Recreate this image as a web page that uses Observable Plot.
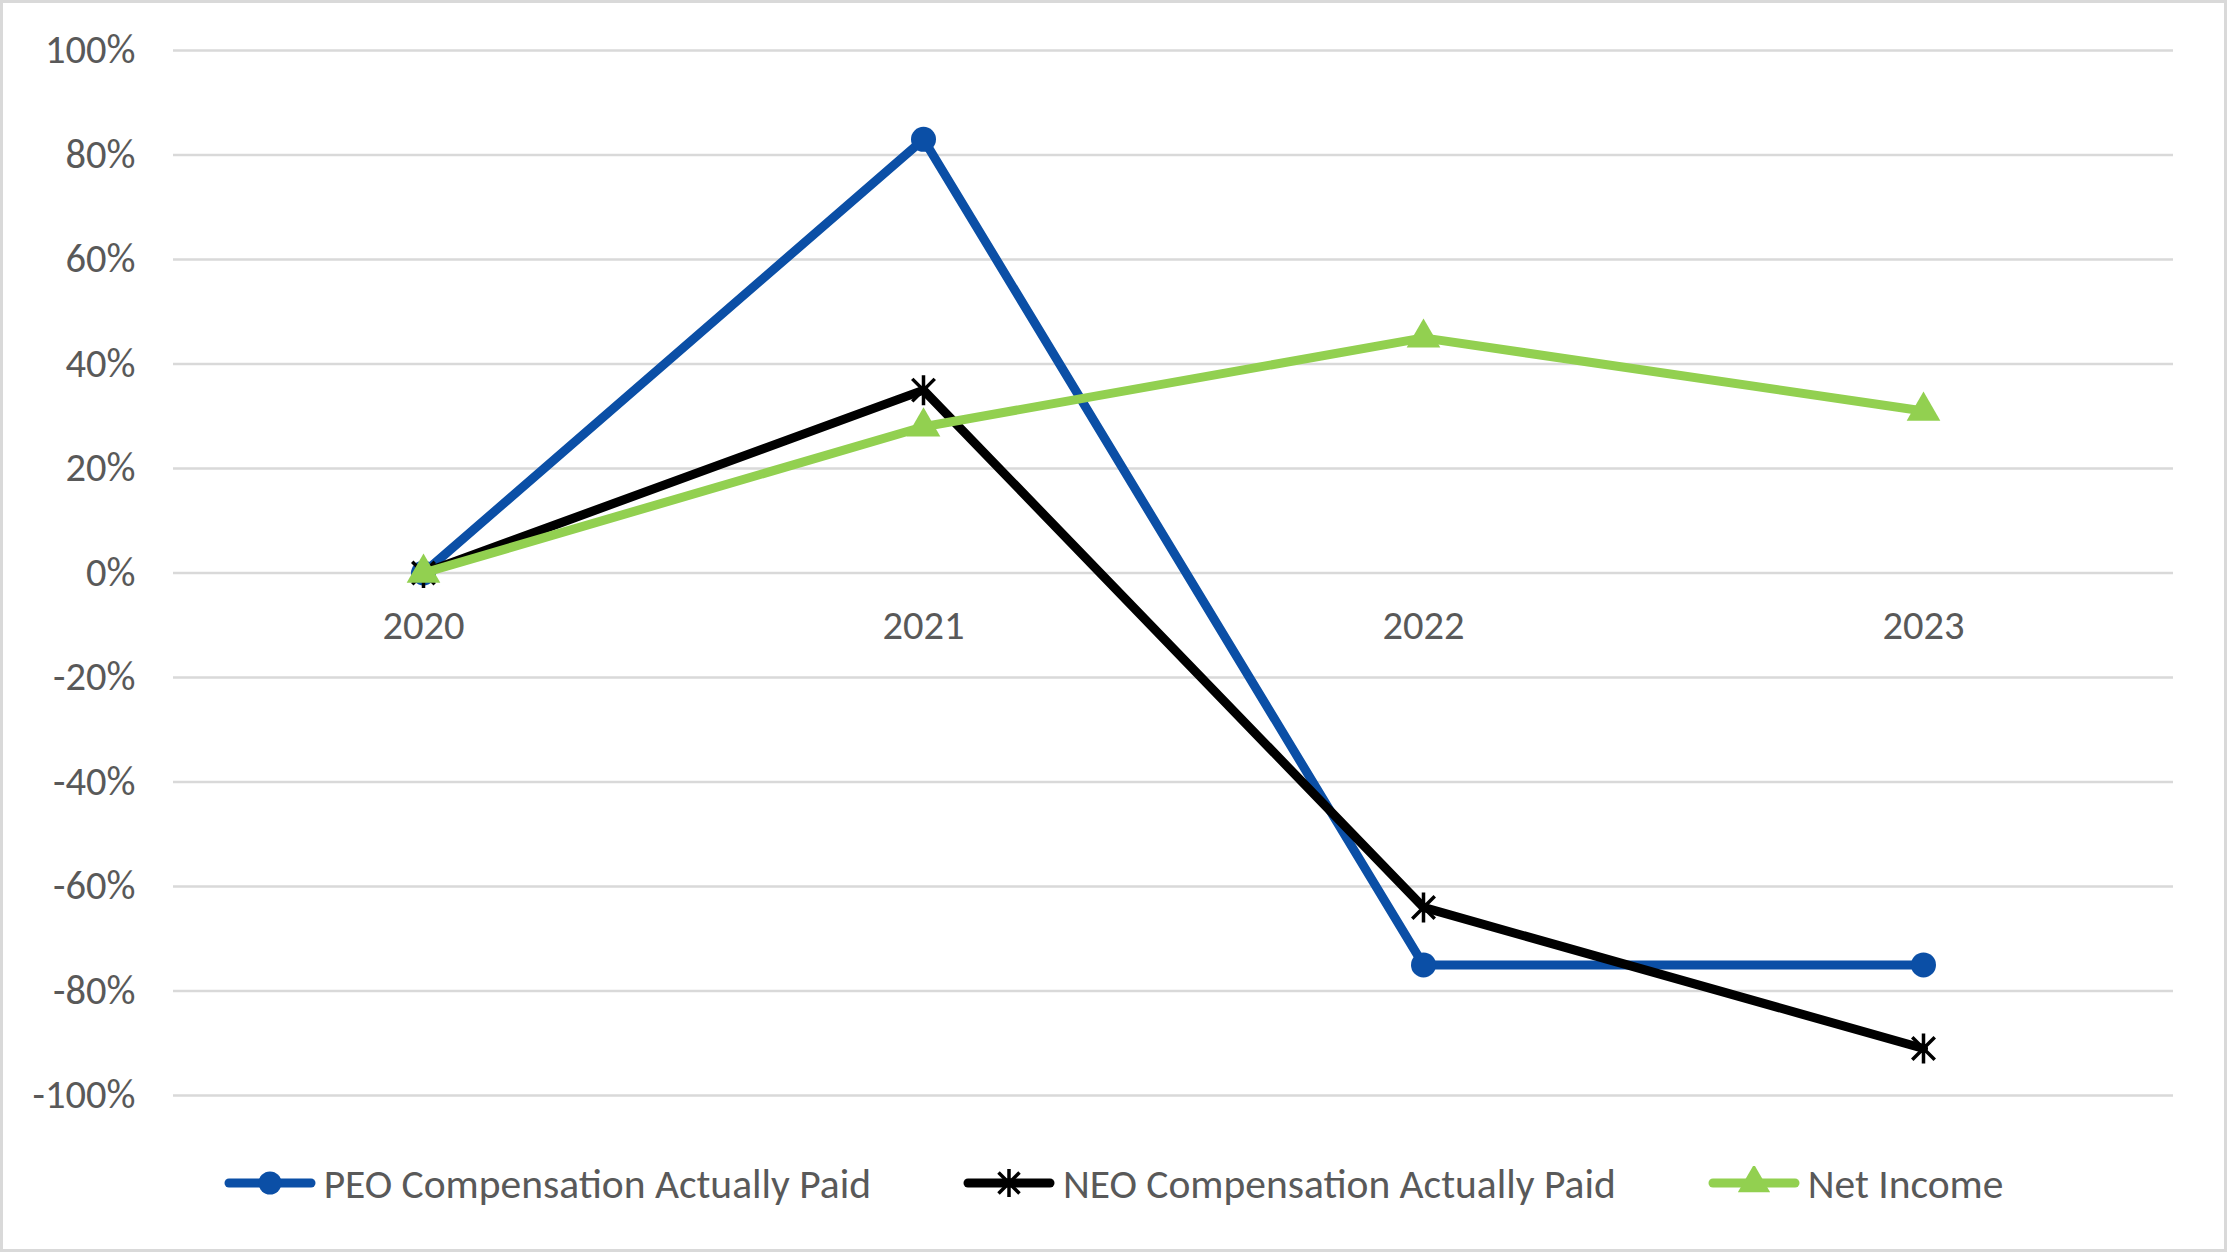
<!DOCTYPE html>
<html>
<head>
<meta charset="utf-8">
<script src="https://cdn.jsdelivr.net/npm/d3@7"></script>
<script src="https://cdn.jsdelivr.net/npm/@observablehq/plot@0.6"></script>
<style>
  html, body { margin: 0; padding: 0; background: #fff; }
  .frame {
    width: 2227px; height: 1252px; box-sizing: border-box;
    border: 3px solid #d9d9d9; position: relative; background: #fff; overflow: hidden;
    font-family: Carlito, Calibri, Lato, "Open Sans", sans-serif;
  }
  #chart { position: absolute; left: 0; top: 0; }
  .legend {
    position: absolute; left: 0; right: 0; top: 1150px; height: 60px;
    display: flex; justify-content: center; align-items: center; gap: 92px;
    color: #595959; font-size: 41.5px;
  }
  .legend .item { display: flex; align-items: center; gap: 8px; }
  .legend svg { display: block; }
</style>
</head>
<body>
<div class="frame">
  <div id="chart"></div>
  <div class="legend" id="legend"></div>
</div>
<script>
const years = ["2020", "2021", "2022", "2023"];
const peo = [0, 83, -75, -75];
const neo = [0, 35, -64, -91];
const netIncome = [0, 28, 45, 31];
const yTicks = [-100, -80, -60, -40, -20, 0, 20, 40, 60, 80, 100];
const seriesNames = ["PEO Compensation Actually Paid", "NEO Compensation Actually Paid", "Net Income"];
const seriesColors = ["#0B4FA6", "#000000", "#92D050"];

const toRows = (vals, name) => years.map((y, i) => ({year: y, value: vals[i], series: name}));
const rowsPeo = toRows(peo, seriesNames[0]);
const rowsNeo = toRows(neo, seriesNames[1]);
const rowsNet = toRows(netIncome, seriesNames[2]);

// Excel-style "star" marker: X plus vertical bar
const asterisk = {
  draw(context, size) {
    const s = Math.sqrt(size / Math.PI);
    const d = s * 0.75;
    context.moveTo(-d, -d); context.lineTo(d, d);
    context.moveTo(-d, d); context.lineTo(d, -d);
    context.moveTo(0, -s); context.lineTo(0, s);
  }
};

const textColor = "#595959";
const fontFamily = "Carlito, Calibri, Lato, 'Open Sans', sans-serif";

const chart = Plot.plot({
  width: 2221,
  height: 1120,
  marginLeft: 170,
  marginRight: 51,
  marginTop: 47,
  marginBottom: 28,
  style: {fontFamily, fontSize: "40px", color: textColor, background: "transparent"},
  x: {type: "point", domain: years, padding: 0.5, axis: null},
  y: {domain: [-100, 100], axis: null},
  marks: [
    Plot.gridY(yTicks, {stroke: "#d9d9d9", strokeOpacity: 1, strokeWidth: 2.5}),
    Plot.axisY(yTicks, {
      tickSize: 0, tickPadding: 38, tickFormat: d => d + "%",
      fill: textColor, fontSize: 40.5, label: null
    }),
    Plot.text(years, {x: d => d, y: () => 0, dy: 53, text: d => d, fill: textColor, fontSize: 40.5}),
    Plot.line(rowsPeo, {x: "year", y: "value", stroke: seriesColors[0], strokeWidth: 9, strokeLinejoin: "round", strokeLinecap: "round"}),
    Plot.dot(rowsPeo, {x: "year", y: "value", r: 12.5, fill: seriesColors[0], stroke: "none"}),
    Plot.line(rowsNeo, {x: "year", y: "value", stroke: seriesColors[1], strokeWidth: 9, strokeLinejoin: "round", strokeLinecap: "round"}),
    Plot.dot(rowsNeo, {x: "year", y: "value", r: 15, symbol: () => asterisk, stroke: seriesColors[1], strokeWidth: 3.5, fill: "none"}),
    Plot.line(rowsNet, {x: "year", y: "value", stroke: seriesColors[2], strokeWidth: 9, strokeLinejoin: "round", strokeLinecap: "round"}),
    Plot.dot(rowsNet, {x: "year", y: "value", r: 12.5, symbol: "triangle", fill: seriesColors[2], stroke: "none"})
  ]
});
document.getElementById("chart").appendChild(chart);

// Legend
const legend = d3.select("#legend");
const markerKinds = ["circle", "asterisk", "triangle"];
seriesNames.forEach((name, i) => {
  const item = legend.append("div").attr("class", "item");
  const svg = item.append("svg").attr("width", 92).attr("height", 34);
  svg.append("line").attr("x1", 5).attr("x2", 87).attr("y1", 17).attr("y2", 17)
    .attr("stroke", seriesColors[i]).attr("stroke-width", 9).attr("stroke-linecap", "round");
  const g = svg.append("g").attr("transform", "translate(46,17)");
  if (markerKinds[i] === "circle") {
    g.append("circle").attr("r", 11.5).attr("fill", seriesColors[i]);
  } else if (markerKinds[i] === "asterisk") {
    g.append("path").attr("d", d3.symbol(asterisk, 14 * 14 * Math.PI)())
      .attr("stroke", seriesColors[i]).attr("stroke-width", 3.5).attr("fill", "none");
  } else {
    g.append("path").attr("d", d3.symbol(d3.symbolTriangle, 12 * 12 * Math.PI)())
      .attr("fill", seriesColors[i]);
  }
  item.append("span").text(name);
});
</script>
</body>
</html>
